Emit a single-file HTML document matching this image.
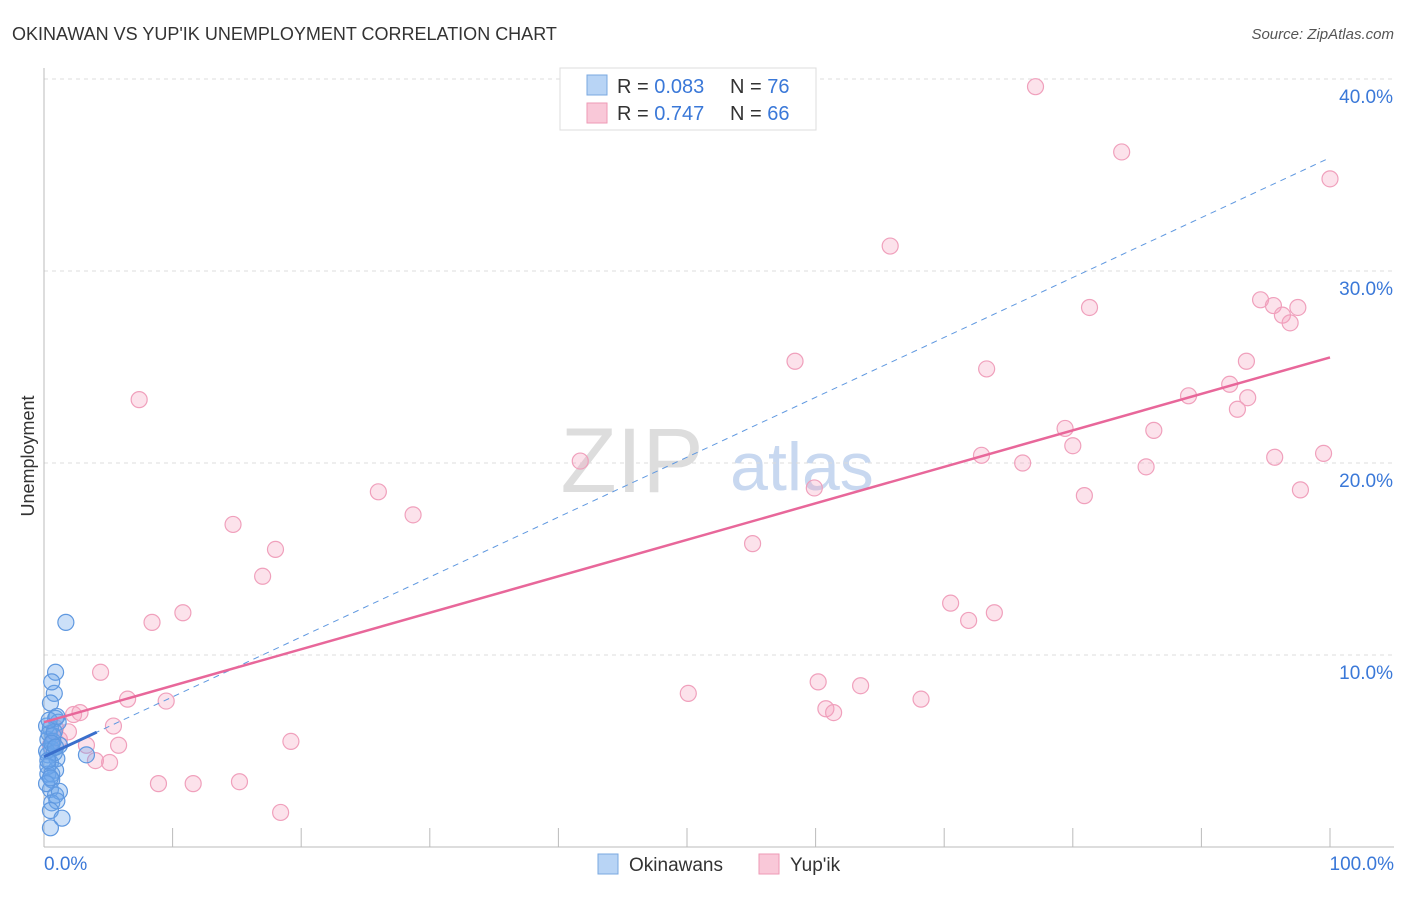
<!DOCTYPE html>
<html><head><meta charset="utf-8"><style>
body{margin:0;background:#fff;font-family:"Liberation Sans",sans-serif;}
svg text{font-family:"Liberation Sans",sans-serif;}
</style></head><body>
<svg width="1406" height="892" viewBox="0 0 1406 892">
<text x="12" y="40" font-size="18" fill="#333">OKINAWAN VS YUP'IK UNEMPLOYMENT CORRELATION CHART</text>
<text x="1394" y="39" font-size="15" fill="#555" font-style="italic" text-anchor="end">Source: ZipAtlas.com</text>
<g>
<text x="632" y="492" font-size="92" fill="#ddd" font-family="Liberation Serif" text-anchor="middle">ZIP</text>
<text x="802" y="490" font-size="68" fill="#c8d8f0" text-anchor="middle">atlas</text>
</g>
<g id="grid"></g>
<g id="axes"></g>
<g id="marks"></g>
<text x="34" y="456" font-size="18" fill="#333" transform="rotate(-90 34 456)" text-anchor="middle">Unemployment</text>
<g>
<rect x="560" y="68" width="256" height="62" fill="#fff" stroke="#ddd"/>
<rect x="587" y="75" width="20" height="20" fill="#b8d4f5" stroke="#7aa8e0"/>
<rect x="587" y="103" width="20" height="20" fill="#f9c8d8" stroke="#ee9ab6"/>
<text x="617" y="93" font-size="20" fill="#333">R = <tspan fill="#3a78d8">0.083</tspan></text>
<text x="730" y="93" font-size="20" fill="#333">N = <tspan fill="#3a78d8">76</tspan></text>
<text x="617" y="120" font-size="20" fill="#333">R = <tspan fill="#3a78d8"> 0.747</tspan></text>
<text x="730" y="120" font-size="20" fill="#333">N = <tspan fill="#3a78d8">66</tspan></text>
</g>
<g>
<rect x="598" y="854" width="20" height="20" fill="#b8d4f5" stroke="#7aa8e0"/>
<text x="629" y="871" font-size="19" fill="#333">Okinawans</text>
<rect x="759" y="854" width="20" height="20" fill="#f9c8d8" stroke="#ee9ab6"/>
<text x="790" y="871" font-size="19" fill="#333">Yup'ik</text>
</g>
</svg>
<script>
const yTicks=[10,20,30,40];
const yTickLabels=["10.0%","20.0%","30.0%","40.0%"];
const xTicks=[0,10,20,30,40,50,60,70,80,90,100];
const xEndLabels=["0.0%","100.0%"];
const pinkX=[77.1,83.8,100,65.8,94.6,95.6,96.3,96.9,97.5,81.3,58.4,93.5,73.3,92.2,89.0,93.6,92.8,7.4,79.4,86.3,80.0,72.9,76.1,85.7,95.7,99.5,41.7,59.9,80.9,97.7,26.0,28.7,14.7,55.1,18.0,17.0,70.5,73.9,71.9,10.8,8.4,4.4,50.1,60.2,63.5,68.2,60.8,61.4,6.5,9.5,2.8,2.3,5.4,1.9,1.2,5.8,3.3,4.0,5.1,19.2,8.9,11.6,15.2,18.4,0.5,0.9];
const pinkY=[39.6,36.2,34.8,31.3,28.5,28.2,27.7,27.3,28.1,28.1,25.3,25.3,24.9,24.1,23.5,23.4,22.8,23.3,21.8,21.7,20.9,20.4,20.0,19.8,20.3,20.5,20.1,18.7,18.3,18.6,18.5,17.3,16.8,15.8,15.5,14.1,12.7,12.2,11.8,12.2,11.7,9.1,8.0,8.6,8.4,7.7,7.2,7.0,7.7,7.6,7.0,6.9,6.3,6.0,5.6,5.3,5.3,4.5,4.4,5.5,3.3,3.3,3.4,1.8,5.3,6.2];
const blueX=[1.7,0.9,0.8,0.6,0.5,0.9,1.1,0.5,0.7,0.3,1.2,0.6,0.3,1.0,0.5,0.9,0.3,0.6,0.5,0.9,1.2,0.6,1.0,0.5,1.4,0.5,3.3,0.2,0.4,0.7,0.2,0.8,0.3,0.6,0.2,0.8,0.4,1.0,0.6,0.3,0.5,0.9];
const blueY=[11.7,9.1,8.0,8.6,7.5,6.7,6.5,6.2,5.8,5.6,5.3,5.1,4.8,4.6,4.4,4.0,3.8,3.5,3.0,2.7,2.9,2.3,2.4,1.9,1.5,1.0,4.8,6.3,5.9,5.5,5.0,4.9,4.2,3.8,3.3,6.0,6.6,6.8,5.4,4.5,3.6,5.2];
const pinkFit=[6.5,25.5];
const blueFit=[4.7,35.9];
const blueSolidEnd=4.1;

const NS="http://www.w3.org/2000/svg";
const X=v=>44+v*12.86, Y=v=>847-v*19.2;
function mk(tag,attrs,parent){const e=document.createElementNS(NS,tag);for(const k in attrs)e.setAttribute(k,attrs[k]);parent.appendChild(e);return e;}
const grid=document.getElementById('grid'),axes=document.getElementById('axes'),marks=document.getElementById('marks');
yTicks.forEach((t,i)=>{
 const l=mk('line',{x1:44,x2:1394,y1:Y(t),y2:Y(t),stroke:'#ddd','stroke-dasharray':'4 4'},grid);
 
 
 const tx=mk('text',{x:1393,y:Y(t)+24,'font-size':19,fill:'#3a78d8','text-anchor':'end'},axes);
 tx.textContent=yTickLabels[i];
 
 
});
const la=mk('line',{x1:44,x2:44,y1:68,y2:847,stroke:'#bbb'},axes);


const ba=mk('line',{x1:44,x2:1394,y1:847,y2:847,stroke:'#bbb'},axes);


xTicks.forEach(t=>{
 const l=mk('line',{x1:X(t),x2:X(t),y1:828,y2:847,stroke:'#bbb'},axes);
 
 
});
[[0,'start'],[100,'end']].forEach((p,i)=>{
 const tx=mk('text',{x:i?1394:44,y:870,'font-size':19,fill:'#3a78d8','text-anchor':p[1]},axes);
 tx.textContent=xEndLabels[i];
 
 
});
pinkX.forEach((x,i)=>{
 const c=mk('circle',{cx:X(x),cy:Y(pinkY[i]),r:8,fill:'rgba(244,160,190,0.3)',stroke:'#f0a0bc','stroke-width':1.2},marks);
 
 
});
blueX.forEach((x,i)=>{
 const c=mk('circle',{cx:X(x),cy:Y(blueY[i]),r:8,fill:'rgba(110,165,235,0.35)',stroke:'#5f98e0','stroke-width':1.2},marks);
 
 
});
const bd=mk('line',{x1:X(0),y1:Y(blueFit[0]),x2:X(100),y2:Y(blueFit[1]),stroke:'#5f98e0','stroke-width':1,'stroke-dasharray':'6 5'},marks);


const bs=mk('line',{x1:X(0),y1:Y(blueFit[0]),x2:X(blueSolidEnd),y2:Y(blueFit[0]+(blueFit[1]-blueFit[0])*blueSolidEnd/100),stroke:'#3a6fcc','stroke-width':3},marks);


const pl=mk('line',{x1:X(0),y1:Y(pinkFit[0]),x2:X(100),y2:Y(pinkFit[1]),stroke:'#e8679a','stroke-width':2.5},marks);


</script>
</body></html>
